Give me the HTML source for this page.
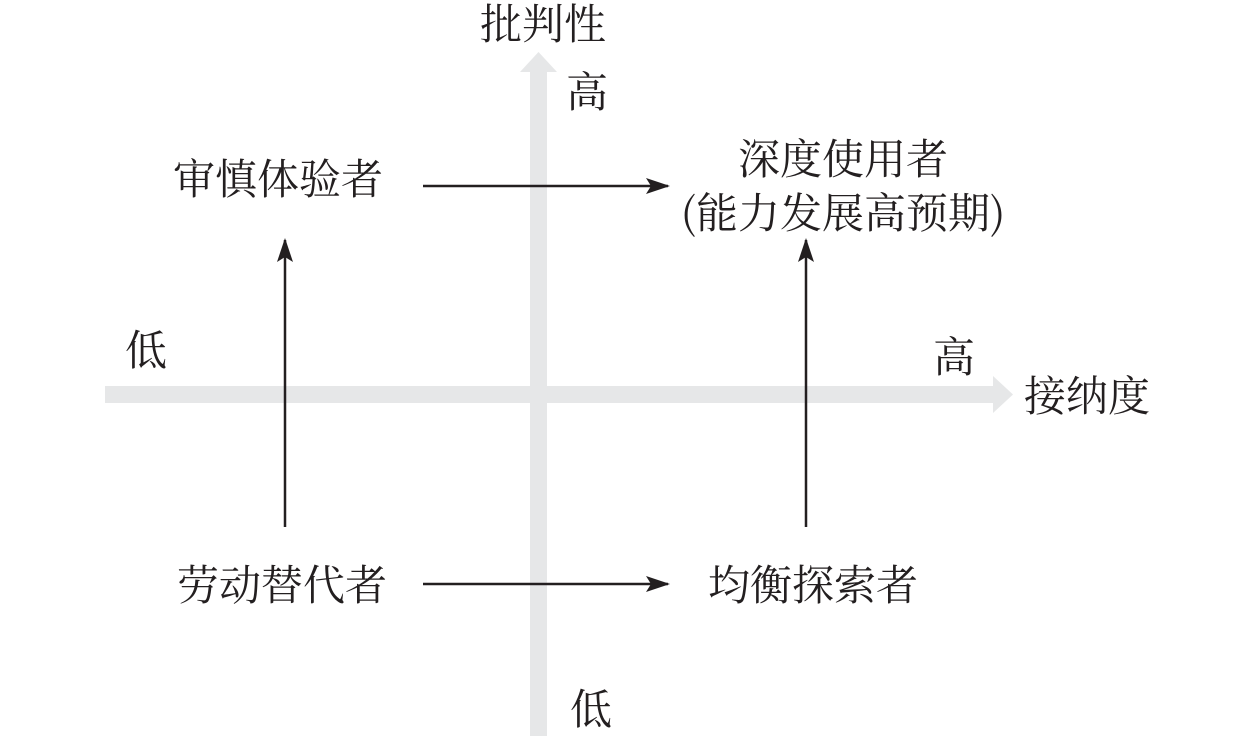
<!DOCTYPE html>
<html><head><meta charset="utf-8"><style>
html,body{margin:0;padding:0;background:#fff;}
svg{display:block;}
text{font-family:"Noto Serif CJK SC","Liberation Serif",serif;font-size:42px;fill:#231f20;text-anchor:middle;dominant-baseline:central;}
</style></head><body>
<svg width="1259" height="736" viewBox="0 0 1259 736">
<defs>
<marker id="b" markerWidth="24" markerHeight="16" refX="22" refY="8" orient="auto" markerUnits="userSpaceOnUse"><path d="M0,0 L24,8 L0,16 L5,8 Z" fill="#231f20"/></marker></defs>
<rect x="530" y="68" width="17" height="668" fill="#e6e7e8"/>
<path d="M520,72 L538.5,52 L557,72 Z" fill="#e6e7e8"/>
<rect x="105" y="386" width="892" height="17" fill="#e6e7e8"/>
<path d="M993,376 L1013,394.5 L993,413 Z" fill="#e6e7e8"/>
<line x1="423" y1="186" x2="668" y2="186" stroke="#231f20" stroke-width="2.5" marker-end="url(#b)"/>
<line x1="423" y1="584" x2="668" y2="584" stroke="#231f20" stroke-width="2.5" marker-end="url(#b)"/>
<line x1="285" y1="527" x2="285" y2="240" stroke="#231f20" stroke-width="2.5" marker-end="url(#b)"/>
<line x1="806" y1="527" x2="806" y2="240" stroke="#231f20" stroke-width="2.5" marker-end="url(#b)"/>
<text x="543" y="22">批判性</text>
<text x="587" y="90">高</text>
<text x="278" y="177">审慎体验者</text>
<text x="843" y="157">深度使用者</text>
<text x="843" y="211">(能力发展高预期)</text>
<text x="146" y="348">低</text>
<text x="954" y="355">高</text>
<text x="1087" y="394">接纳度</text>
<text x="282" y="583">劳动替代者</text>
<text x="813" y="583">均衡探索者</text>
<text x="591" y="707">低</text>
</svg>
</body></html>
